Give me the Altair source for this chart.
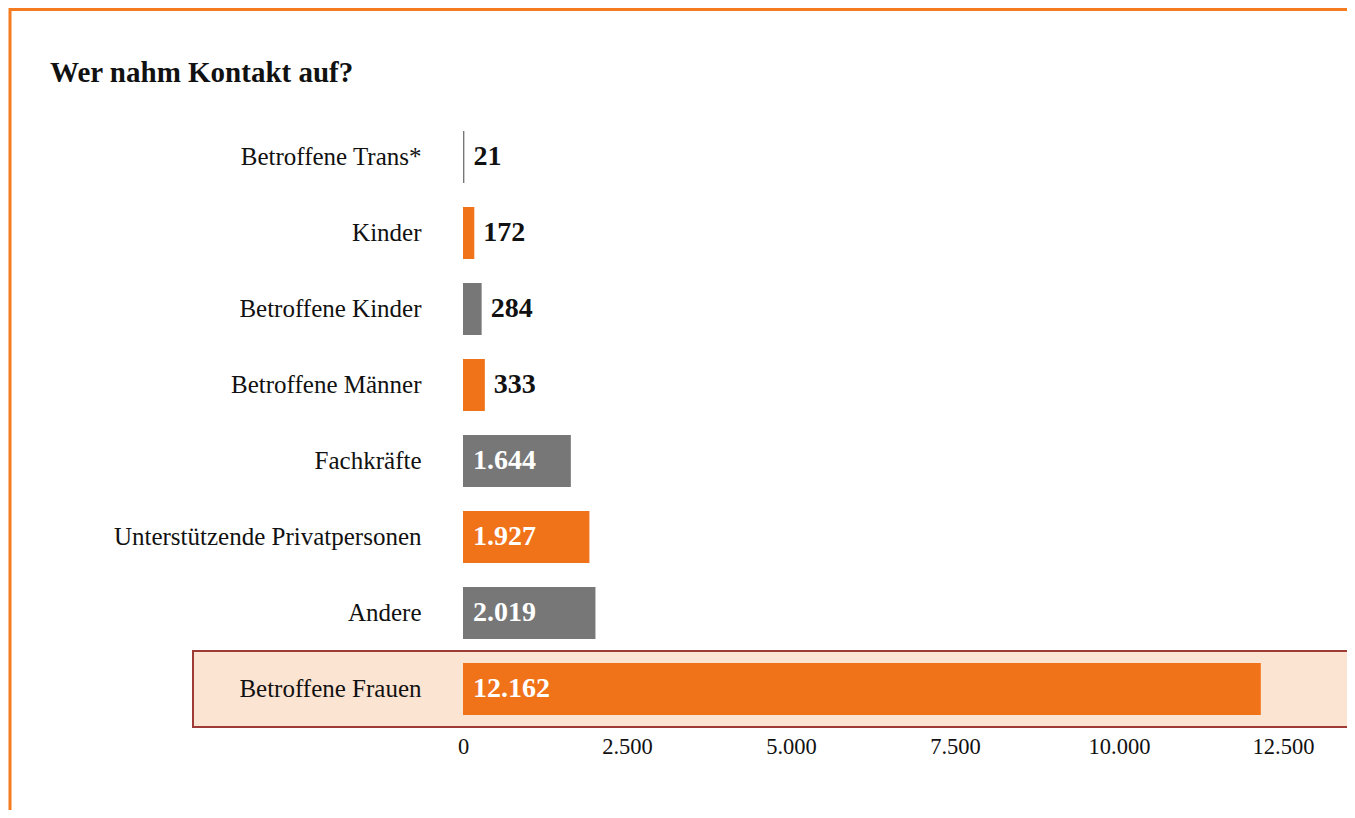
import altair as alt
import pandas as pd

categories = [
    "Betroffene Trans*",
    "Kinder",
    "Betroffene Kinder",
    "Betroffene Männer",
    "Fachkräfte",
    "Unterstützende Privatpersonen",
    "Andere",
    "Betroffene Frauen",
]
values = [21, 172, 284, 333, 1644, 1927, 2019, 12162]
bar_colors = ["#777777", "#F07219", "#777777", "#F07219",
              "#777777", "#F07219", "#777777", "#F07219"]
highlight = "Betroffene Frauen"
x_ticks = [0, 2500, 5000, 7500, 10000, 12500]
title_text = "Wer nahm Kontakt auf?"

df = pd.DataFrame({"cat": categories, "value": values, "color": bar_colors})

W = 884
H = 608
FONT = "Liberation Serif"
FMT = "replace(format(datum.value, ','), ',', '.')"

y_enc = alt.Y(
    "cat:N",
    sort=categories,
    scale=alt.Scale(paddingInner=0, paddingOuter=0),
    axis=alt.Axis(title=None, labelFont=FONT, labelFontSize=25, labelColor="#111111",
                  labelPadding=42, ticks=False, domain=False, labelLimit=500),
)
x_axis = alt.Axis(title=None, values=x_ticks, labelExpr=FMT, ticks=False, domain=False,
                  grid=False, labelFont=FONT, labelFontSize=22.5, labelPadding=8,
                  labelColor="#111111", labelFlush=False)
x_scale = alt.Scale(domain=[0, 13476], nice=False)

frame = alt.Chart(pd.DataFrame({"k": [0]})).mark_rect(
    fill="transparent", stroke="#F47B20", strokeWidth=3
).encode(
    x=alt.value(-453), x2=alt.value(W + 300), y=alt.value(-109.5), y2=alt.value(H + 300)
)

hl = alt.Chart(df).transform_filter(alt.datum.cat == highlight).mark_rect(
    fill="#FCE4D2", stroke="#9E3B36", strokeWidth=2
).encode(
    y=y_enc, x=alt.value(-270), x2=alt.value(W + 50)
)

bars = alt.Chart(df).mark_bar(size=52).encode(
    y=y_enc,
    x=alt.X("value:Q", scale=x_scale, axis=x_axis),
    color=alt.Color("color:N", scale=None),
)

lab_out = alt.Chart(df).transform_filter(alt.datum.value < 1000).transform_calculate(
    label=FMT
).mark_text(
    align="left", baseline="middle", dx=9, font=FONT, fontSize=28, fontWeight="bold",
    color="#111111"
).encode(
    y=y_enc, x=alt.X("value:Q", scale=x_scale, axis=x_axis), text="label:N"
)

lab_in = alt.Chart(df).transform_filter(alt.datum.value >= 1000).transform_calculate(
    label=FMT, zero="0"
).mark_text(
    align="left", baseline="middle", dx=10, font=FONT, fontSize=28, fontWeight="bold",
    color="white"
).encode(
    y=y_enc, x=alt.X("zero:Q", scale=x_scale, axis=x_axis), text="label:N"
)

title = alt.Chart(pd.DataFrame({"t": [title_text]})).mark_text(
    align="left", baseline="alphabetic", font=FONT, fontSize=29, fontWeight="bold",
    color="#111111"
).encode(
    x=alt.value(-413), y=alt.value(-37), text="t:N"
)

chart = alt.layer(frame, hl, bars, lab_out, lab_in, title).properties(
    width=W, height=H,
    padding={"left": 455, "top": 111, "right": 0, "bottom": 83},
    autosize=alt.AutoSizeParams(type="none"),
    background="white",
).configure_view(stroke=None)

chart.save("out.html", embed_options={"renderer": "svg", "actions": False})
